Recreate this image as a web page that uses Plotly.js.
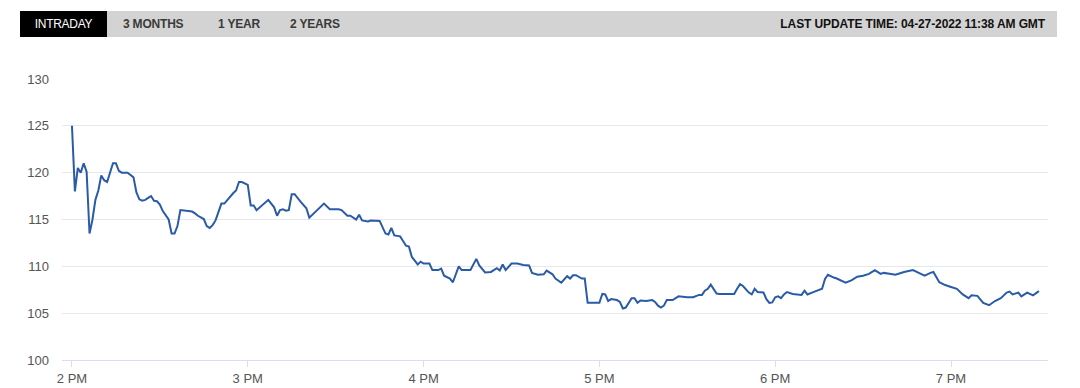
<!DOCTYPE html>
<html>
<head>
<meta charset="utf-8">
<script src="https://cdn.plot.ly/plotly-3.0.1.min.js"></script>
<style>
  html, body { margin: 0; padding: 0; background: #fff; }
  body { width: 1080px; height: 388px; position: relative; overflow: hidden; font-family: "Liberation Sans", Arial, Helvetica, sans-serif; }
  #chart { position: absolute; left: 0; top: 0; width: 1080px; height: 388px; }
  #bar { position: absolute; left: 20px; top: 11px; width: 1037px; height: 26px; background: #d3d3d3; z-index: 5; }
  #bar span { position: absolute; top: 0; line-height: 26px; font-size: 12px; font-weight: bold; color: #3a3a3a; white-space: nowrap; letter-spacing: -0.2px; }
  #bar .active { left: 0; width: 87px; height: 26px; background: #000; color: #fff; text-align: center; font-weight: normal; letter-spacing: -0.3px; }
  #bar .upd { right: 12px; color: #111; letter-spacing: -0.1px; }
</style>
</head>
<body>
<div id="chart"></div>
<div id="bar">
  <span class="active">INTRADAY</span>
  <span style="left:103px">3 MONTHS</span>
  <span style="left:198px">1 YEAR</span>
  <span style="left:270px">2 YEARS</span>
  <span class="upd">LAST UPDATE TIME: 04-27-2022 11:38 AM GMT</span>
</div>
<script>
// minutes after 2:00 PM
const minutes = [
  0,1,2,3,4,5,6,7,8,9,10,11,12,14,15,16,17,19,20,21,22,23,24,25,26,27,28,29,30,31,33,34,35,36,37,39,
  41,42,43,45,46,47,48,49,50,51,52,53,54,55,56,57,58,60,61,62,63,65,67,69,70,71,72,73,74,75,76,78,
  80,81,83,85,86,88,91,92,94,95,97,98,99,101,102,105,107,108,109,110,112,113,114,115,116,117,118,119,
  120,122,123,125,126,127,129,130,132,133,136,138,139,141,143,145,146,147,148,150,152,154,156,157,159,
  161,162,164,165,167,169,170,171,172,174,175,176,180,181,182,183,184,186,187,188,189,191,192,193,194,
  196,198,199,200,201,202,203,205,207,210,212,214,215,216,217,218,220,221,226,227,228,229,231,232,233,
  234,236,237,238,239,240,241,242,243,244,246,247,249,250,251,253,255,256,257,258,260,261,264,266,268,
  270,272,274,276,277,279,281,284,287,289,291,293,294,296,298,300,302,304,306,307,309,311,313,315,317,
  319,320,321,323,324,326,328,330
];
const prices = [
  125,118,120.5,120.0,121.0,120.1,113.5,115,117.1,118.1,119.7,119.2,119.0,121.0,121.0,120.2,120.0,120.0,119.75,119.5,117.9,117.15,117.0,117.1,117.3,117.5,117.0,116.95,116.6,115.9,115.0,113.5,113.5,114.3,116.0,115.95,
  115.85,115.65,115.4,115.05,114.3,114.1,114.4,114.9,115.8,116.7,116.7,117.1,117.5,117.8,118.1,119.0,119.0,118.7,116.5,116.5,116.0,116.6,117.1,116.3,115.4,116.0,116.1,115.95,116.0,117.7,117.7,116.9,
  116.2,115.2,115.8,116.4,116.7,116.1,116.1,116.0,115.4,115.4,115.0,115.5,114.9,114.8,114.9,114.85,113.5,113.4,114.1,113.3,113.2,112.7,112.2,112.1,111.0,110.6,110.2,110.5,
  110.3,110.3,109.6,109.6,109.75,109.0,108.7,108.3,110.0,109.6,109.6,110.8,110.1,109.35,109.4,109.8,109.55,110.2,109.6,110.3,110.3,110.15,110.1,109.3,109.1,
  109.15,109.55,109.15,108.7,108.25,108.95,108.7,109.05,109.05,108.7,108.7,106.1,106.1,107.05,107.0,106.3,106.5,106.4,106.2,105.5,105.6,106.6,106.6,106.1,106.35,
  106.3,106.4,106.2,105.8,105.6,105.8,106.4,106.4,106.8,106.7,106.7,106.95,106.95,107.4,107.6,108.05,107.1,107.05,107.05,107.6,108.1,107.9,107.2,107.0,107.6,
  107.25,107.2,106.5,106.1,106.15,106.7,106.8,106.6,107.0,107.25,107.05,107.0,106.95,107.4,107.0,107.25,107.5,107.6,108.65,109.1,108.8,108.7,108.25,108.5,108.9,
  109.0,109.2,109.6,109.2,109.3,109.2,109.1,109.4,109.6,109.3,109.0,109.3,109.4,108.3,108.0,107.8,107.6,107.0,106.6,106.9,106.85,106.1,105.85,106.3,106.6,
  107.2,107.3,107.0,107.2,106.8,107.2,106.9,107.35
];
const yTicks = [100,105,110,115,120,125,130];
const startMs = Date.UTC(2022, 3, 26, 14, 0, 0);

function toStamp(m) {
  const d = new Date(startMs + Math.round(m * 60000));
  return d.toISOString().replace('T', ' ').slice(0, 19);
}
const times = minutes.map(toStamp);

const trace = {
  x: times, y: prices, type: 'scatter', mode: 'lines',
  line: { color: '#2a5ba6', width: 2 },
  hoverinfo: 'skip'
};

const layout = {
  width: 1080, height: 388,
  margin: { l: 62, r: 32, t: 79, b: 28 },
  paper_bgcolor: '#ffffff', plot_bgcolor: '#ffffff',
  showlegend: false,
  font: { family: '"Liberation Sans", Arial, Helvetica, sans-serif', size: 13, color: '#555555' },
  xaxis: {
    type: 'date',
    range: [toStamp(-3.4), toStamp(333.1)],
    tick0: toStamp(0), dtick: 3600000,
    tickformat: '%-I %p',
    showgrid: false, zeroline: false,
    showline: true, linecolor: '#dcdcee', linewidth: 1,
    ticks: 'outside', ticklen: 6, tickcolor: '#dcdcee', tickwidth: 1,
    tickfont: { size: 13, color: '#555555' }
  },
  yaxis: {
    range: [100, 130],
    tickvals: yTicks, ticktext: yTicks.map(String),
    showgrid: true, gridcolor: '#e7e7ee', gridwidth: 1,
    zeroline: false, showline: false, ticks: '',
    ticklabelstandoff: 12,
    tickfont: { size: 13, color: '#555555' }
  }
};

Plotly.newPlot('chart', [trace], layout, { staticPlot: true, displayModeBar: false });
</script>
</body>
</html>
